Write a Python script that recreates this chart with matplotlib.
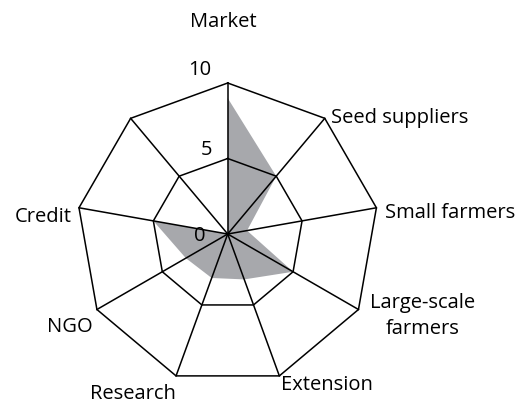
import numpy as np
import matplotlib.pyplot as plt

# spoke names, clockwise from the top (the ninth spoke has no label in the figure)
categories = ['Market', 'Seed suppliers', 'Small farmers', 'Large-scale\nfarmers',
              'Extension', 'Research', 'NGO', 'Credit', '']
values = [9.0, 5.0, 1.3, 5.0, 3.2, 3.1, 3.2, 5.0, 0.0]
ring_levels = [5, 10]
ring_labels = ['0', '5', '10']

vmax = 10
cx, cy = 227.7, 235.0   # centre, in pixel units
R = 151.0               # radius of value 10

n = len(categories)
ang = np.deg2rad(90 - 40 * np.arange(n))


def to_xy(v, a):
    r = np.asarray(v) / vmax * R
    return cx + r * np.cos(a), cy - r * np.sin(a)


fig = plt.figure(figsize=(5.27, 4.10), dpi=100)
ax = fig.add_axes([0, 0, 1, 1])
ax.set_xlim(0, 527)
ax.set_ylim(410, 0)
ax.axis('off')

plt.rcParams['font.family'] = ['Open Sans', 'DejaVu Sans']

# data polygon
px, py = to_xy(values, ang)
ax.fill(px, py, color='#a7a8ac', lw=0, zorder=1)

# rings
for lv in ring_levels:
    gx, gy = to_xy(np.full(n + 1, lv), np.append(ang, ang[0]))
    ax.plot(gx, gy, color='black', lw=1.1, zorder=2)

# spokes
for a in ang:
    sx, sy = to_xy([0, vmax], np.array([a, a]))
    ax.plot(sx, sy, color='black', lw=1.1, zorder=2)

fs = 14.5
# ring labels
ax.text(200, 236, ring_labels[0], fontsize=fs, ha='center', va='center')
ax.text(207, 150, ring_labels[1], fontsize=fs, ha='center', va='center')
ax.text(200, 70, ring_labels[2], fontsize=fs, ha='center', va='center')

# category labels
lab_pos = [(223, 22, 'center'), (331, 118, 'left'), (385, 213, 'left'),
           (423, 316, 'center'), (281, 385, 'left'), (176, 394, 'right'),
           (93, 327, 'right'), (72, 217, 'right')]
for (tx, ty, ha), name in zip(lab_pos, categories):
    ax.text(tx, ty, name, fontsize=fs, ha=ha, va='center', linespacing=1.35)

fig.savefig('out.png', dpi=100)
